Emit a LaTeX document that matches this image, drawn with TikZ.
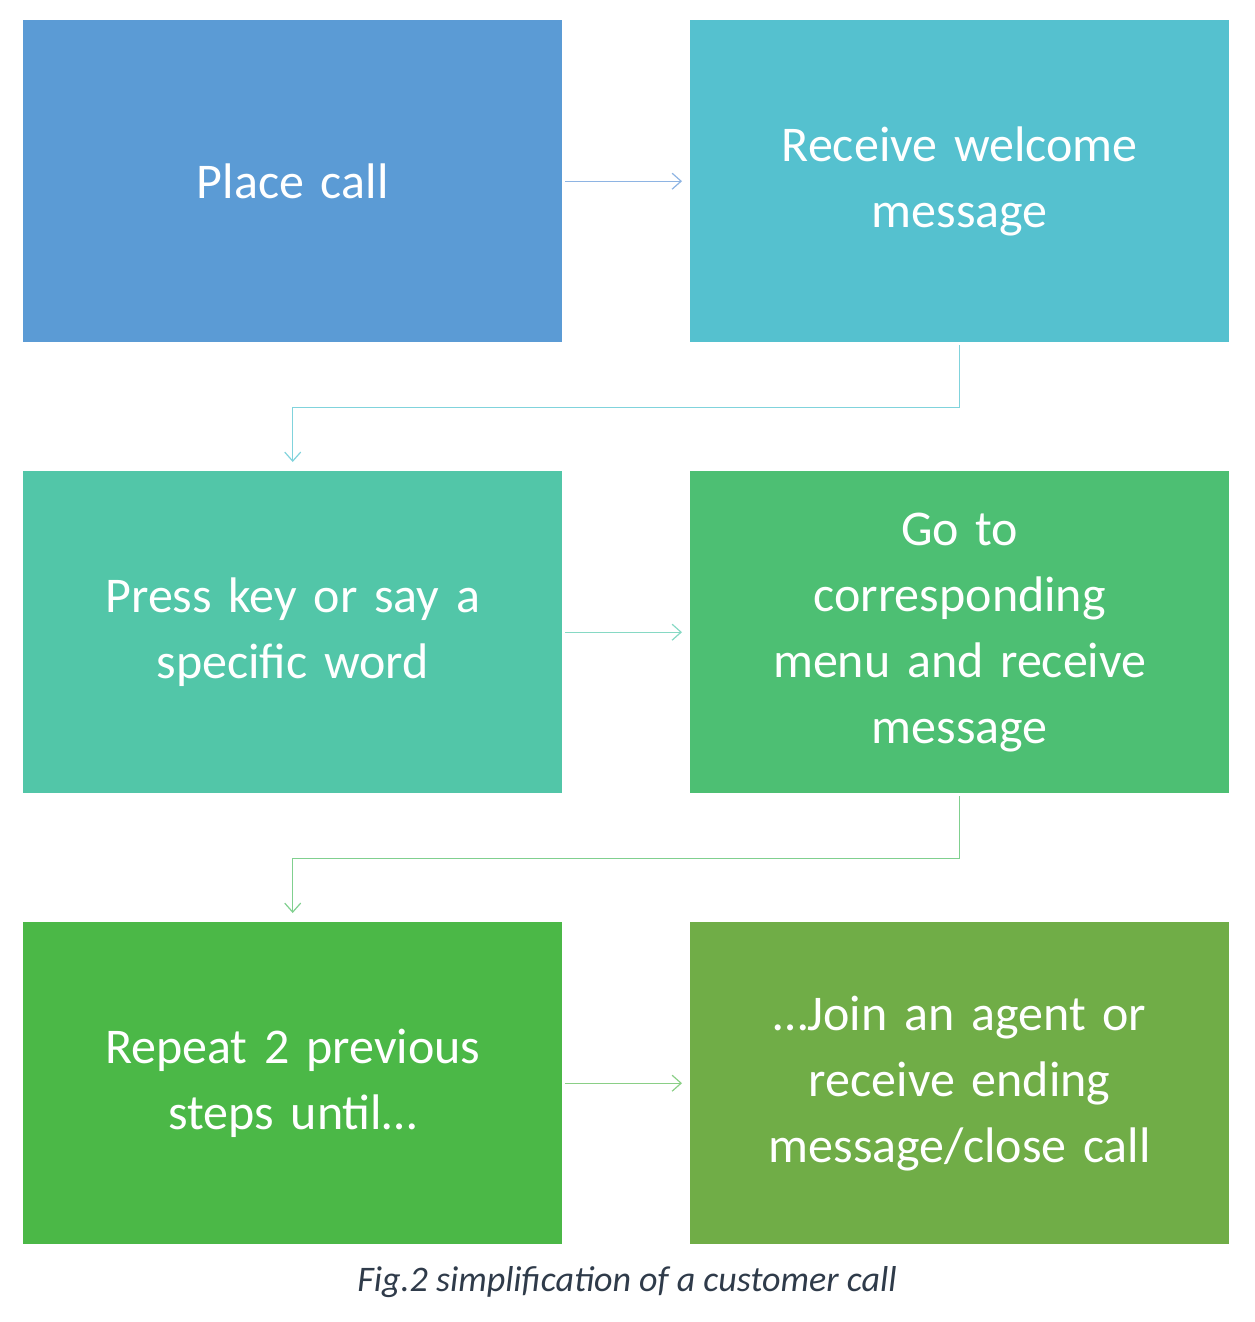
\documentclass[tikz,border=0pt]{standalone}
\usepackage{fontspec}
\setmainfont{Carlito}
\usetikzlibrary{arrows.meta}
\definecolor{c1}{HTML}{5B9BD5}
\definecolor{c2}{HTML}{55C1CF}
\definecolor{c3}{HTML}{52C6A8}
\definecolor{c4}{HTML}{4DBF73}
\definecolor{c5}{HTML}{4BB847}
\definecolor{c6}{HTML}{70AD47}
\definecolor{a1}{HTML}{8EB4E3}
\definecolor{a2}{HTML}{80D3DC}
\definecolor{a3}{HTML}{86D9C4}
\definecolor{a4}{HTML}{80D08F}
\definecolor{a5}{HTML}{8ACF86}
\definecolor{cap}{HTML}{2F3B4A}
\begin{document}
\begin{tikzpicture}[x=1pt,y=-1pt,
  box/.style={draw=none,minimum width=539pt,minimum height=322pt,inner sep=0pt,text=white,
    font=\fontsize{50}{66}\selectfont,align=center,text width=470pt,anchor=north west},
  arr/.style={line width=1.2pt,-{Straight Barb[length=9pt,width=16pt,line width=1.2pt]}}]
\useasboundingbox (0,0) rectangle (1254,1322);
\node[box,fill=c1] (b1) at (23,20) {Place call};
\node[box,fill=c2] (b2) at (690,20) {Receive welcome\\message};
\node[box,fill=c3] (b3) at (23,471) {Press key or say a\\specific word};
\node[box,fill=c4] (b4) at (690,471) {Go to\\corresponding\\menu and receive\\message};
\node[box,fill=c5] (b5) at (23,922) {Repeat 2 previous\\steps until\ldots};
\node[box,fill=c6] (b6) at (690,922) {\ldots Join an agent or\\receive ending\\message/close call};
\draw[arr,a1] ([xshift=3pt]b1.east) -- ([xshift=-8pt]b2.west);
\draw[arr,a3] ([xshift=3pt]b3.east) -- ([xshift=-8pt]b4.west);
\draw[arr,a5] ([xshift=3pt]b5.east) -- ([xshift=-8pt]b6.west);
\draw[arr,a2] ([yshift=-3pt]b2.south) -- ++(0,62) -| ([yshift=9pt]b3.north);
\draw[arr,a4] ([yshift=-3pt]b4.south) -- ++(0,62) -| ([yshift=9pt]b5.north);
\node[text=cap,font=\fontsize{36}{40}\selectfont\itshape] (c) at (627,1282) {Fig.2 simplification of a customer call};
\end{tikzpicture}
\end{document}
